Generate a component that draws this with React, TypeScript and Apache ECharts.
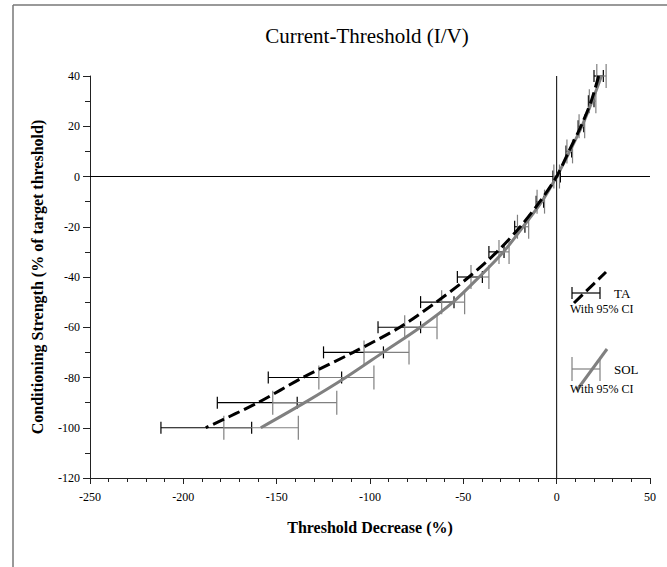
import React, { useEffect, useRef } from "react";
import * as echarts from "echarts";

// y levels (Conditioning Strength, % of target threshold)
const levels = [40, 30, 20, 10, 0, -10, -20, -30, -40, -50, -60, -70, -80, -90, -100];

// TA: mean threshold decrease and 95% CI
const taMean = [22.5, 18.5, 13, 6.5, 0, -9, -19.5, -32, -47, -64.5, -84, -109, -136, -160, -188];
const taLow = [20, 17, 11.5, 5, -2, -11, -22.5, -36.3, -53.2, -72.9, -95.7, -124.9, -154.5, -181.8, -212];
const taHigh = [25, 20, 14.5, 8, 2, -7, -17, -28.2, -39.8, -55, -72.9, -92.8, -115.2, -139, -163.4];

// SOL: mean threshold decrease and 95% CI
const solMean = [24, 19, 13.5, 7, 0, -8, -18, -28.5, -41.5, -55.5, -73, -93, -113, -135, -158.5];
const solLow = [21.5, 17.5, 12, 5.5, -1.5, -10.5, -21, -30.9, -45.9, -61.6, -81.4, -103.2, -127.4, -152.1, -178.3];
const solHigh = [26.5, 21, 15, 8.5, 1.5, -6.5, -15, -25.5, -36.3, -49.3, -64.1, -79.1, -97.9, -117.8, -138.4];

const xTicks = { min: -250, max: 50, interval: 50 };
const yTicks = { min: -120, max: 40, interval: 20 };

const FONT = "Liberation Serif";

function errorBars(name: string, low: number[], high: number[], color: string, capHalf: number, z: number) {
  return {
    name,
    type: "custom",
    silent: true,
    z,
    data: levels.map((y, i) => [low[i], high[i], y]),
    encode: { x: [0, 1], y: 2 },
    renderItem: (_params: any, api: any) => {
      const y = api.value(2);
      const p1 = api.coord([api.value(0), y]);
      const p2 = api.coord([api.value(1), y]);
      const style = { stroke: color, lineWidth: 1.2, fill: null };
      return {
        type: "group",
        children: [
          { type: "line", shape: { x1: p1[0], y1: p1[1], x2: p2[0], y2: p2[1] }, style },
          { type: "line", shape: { x1: p1[0], y1: p1[1] - capHalf, x2: p1[0], y2: p1[1] + capHalf }, style },
          { type: "line", shape: { x1: p2[0], y1: p2[1] - capHalf, x2: p2[0], y2: p2[1] + capHalf }, style },
        ],
      };
    },
  };
}

export default function App() {
  const ref = useRef<HTMLDivElement>(null);
  useEffect(() => {
    if (!ref.current) return;
    const chart = echarts.init(ref.current, undefined, { renderer: "svg" });
    const legendItem = (
      y: number,
      color: string,
      dashed: boolean,
      label: string,
      cap: number,
      diag: [number, number, number, number],
      subGap: number
    ) => [
      { type: "line", shape: { x1: 572, y1: y, x2: 600, y2: y }, style: { stroke: color, lineWidth: 1.2 } },
      { type: "line", shape: { x1: 572, y1: y - cap, x2: 572, y2: y + cap }, style: { stroke: color, lineWidth: 1.2 } },
      { type: "line", shape: { x1: 600, y1: y - cap, x2: 600, y2: y + cap }, style: { stroke: color, lineWidth: 1.2 } },
      {
        type: "line",
        shape: { x1: diag[0], y1: y + diag[1], x2: diag[2], y2: y + diag[3] },
        style: { stroke: color, lineWidth: 3, lineDash: dashed ? [12, 5] : null },
      },
      { type: "text", x: 614, y, style: { text: label, font: `13px "${FONT}"`, fill: "#000", textVerticalAlign: "middle" } },
      { type: "text", x: 570, y: y + subGap, style: { text: "With 95% CI", font: `12px "${FONT}"`, fill: "#000", textVerticalAlign: "middle" } },
    ];
    chart.setOption({
      animation: false,
      backgroundColor: "#fff",
      title: {
        text: "Current-Threshold (I/V)",
        left: 362,
        top: 20,
        textAlign: "center",
        textStyle: { fontFamily: FONT, fontWeight: "normal", fontSize: 21, color: "#000" },
      },
      grid: { left: 90, right: 17, top: 76, bottom: 89 },
      xAxis: {
        type: "value",
        ...xTicks,
        name: "Threshold Decrease (%)",
        nameLocation: "middle",
        nameGap: 41,
        nameTextStyle: { fontFamily: FONT, fontWeight: "bold", fontSize: 16, color: "#000" },
        axisLine: { show: true, onZero: false, lineStyle: { color: "#222", width: 1 } },
        axisTick: { show: true, length: 6, lineStyle: { color: "#222" } },
        minorTick: { show: true, splitNumber: 5, length: 4, lineStyle: { color: "#222" } },
        splitLine: { show: false },
        axisLabel: { fontFamily: FONT, fontSize: 12, color: "#000", margin: 13 },
      },
      yAxis: {
        type: "value",
        ...yTicks,
        name: "Conditioning Strength (% of target threshold)",
        nameLocation: "middle",
        nameGap: 45,
        nameTextStyle: { fontFamily: FONT, fontWeight: "bold", fontSize: 16, color: "#000" },
        axisLine: { show: true, onZero: false, lineStyle: { color: "#222", width: 1 } },
        axisTick: { show: true, length: 7, lineStyle: { color: "#222" } },
        minorTick: { show: true, splitNumber: 2, length: 5, lineStyle: { color: "#222" } },
        splitLine: { show: false },
        axisLabel: { fontFamily: FONT, fontSize: 12, color: "#000", margin: 10 },
      },
      graphic: [
        { type: "line", shape: { x1: 13, y1: 5, x2: 13, y2: 567 }, style: { stroke: "#777", lineWidth: 1.5 } },
        { type: "line", shape: { x1: 13, y1: 5, x2: 667, y2: 5 }, style: { stroke: "#777", lineWidth: 1.5 } },
        ...legendItem(293, "#000", true, "TA", 6, [574, 10, 606, -21], 16),
        ...legendItem(369, "#808080", false, "SOL", 12, [577, 21, 607, -20], 20),
      ],
      series: [
        {
          type: "line",
          silent: true,
          symbol: "none",
          data: [[xTicks.min, 0], [xTicks.max, 0]],
          lineStyle: { color: "#000", width: 1 },
          z: 1,
        },
        {
          type: "line",
          silent: true,
          symbol: "none",
          data: [[0, yTicks.min], [0, yTicks.max]],
          lineStyle: { color: "#000", width: 1 },
          z: 1,
        },
        errorBars("TA CI", taLow, taHigh, "#000", 6, 3),
        errorBars("SOL CI", solLow, solHigh, "#808080", 12, 3),
        {
          name: "SOL",
          type: "line",
          symbol: "none",
          smooth: 0.3,
          data: levels.map((y, i) => [solMean[i], y]),
          lineStyle: { color: "#808080", width: 3 },
          z: 4,
        },
        {
          name: "TA",
          type: "line",
          symbol: "none",
          smooth: 0.3,
          data: levels.map((y, i) => [taMean[i], y]),
          lineStyle: { color: "#000", width: 3, type: [12, 5] },
          z: 5,
        },
      ],
    });
    return () => chart.dispose();
  }, []);
  return <div ref={ref} style={{ position: "absolute", left: 0, top: 0, width: 667, height: 567 }} />;
}
